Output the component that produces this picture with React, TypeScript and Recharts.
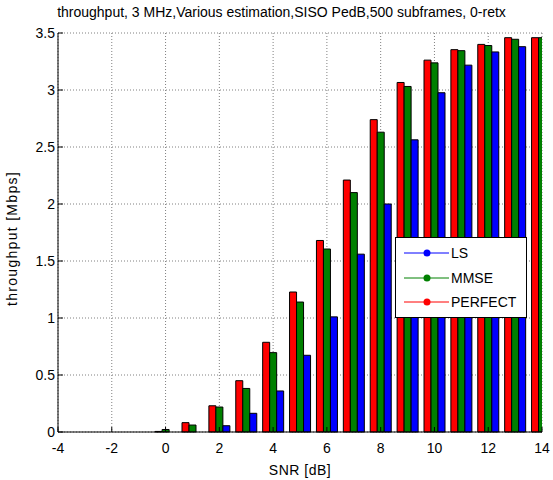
import React from "react";
import {
  BarChart,
  Bar,
  XAxis,
  YAxis,
  CartesianGrid,
  Legend,
  Label,
} from "recharts";

// SNR points in dB and the measured throughput (Mbps) for each estimator
const snr = [-4, -3, -2, -1, 0, 1, 2, 3, 4, 5, 6, 7, 8, 9, 10, 11, 12, 13, 14];
const perfect = [0, 0, 0, 0, 0.005, 0.082, 0.23, 0.45, 0.787, 1.228, 1.68, 2.21, 2.74, 3.066, 3.262, 3.354, 3.4, 3.459, 3.459];
const mmse = [0, 0, 0, 0, 0.022, 0.061, 0.219, 0.382, 0.696, 1.14, 1.605, 2.1, 2.63, 3.031, 3.238, 3.345, 3.39, 3.445, 3.459];
const ls = [0, 0, 0, 0, 0, 0, 0.055, 0.164, 0.36, 0.673, 1.01, 1.56, 2.0, 2.563, 2.976, 3.218, 3.334, 3.38, 3.4];

const xTicks = [-4, -2, 0, 2, 4, 6, 8, 10, 12, 14];
const yTicks = [0, 0.5, 1, 1.5, 2, 2.5, 3, 3.5];

const legendItems = [
  { name: "LS", color: "#0000ff" },
  { name: "MMSE", color: "#008000" },
  { name: "PERFECT", color: "#ff0000" },
];

const data = snr.map((s, i) => ({ snr: s, perfect: perfect[i], mmse: mmse[i], ls: ls[i] }));

const FONT = "'Liberation Sans', Arial, sans-serif";

const LegendBox = () => (
  <div
    style={{
      width: 130,
      height: 79,
      border: "1px solid #000",
      background: "#fff",
      fontFamily: FONT,
      fontSize: 14,
      boxSizing: "content-box",
    }}
  >
    {legendItems.map((it, i) => (
      <div key={it.name} style={{ position: "absolute", left: 0, top: 8 + i * 24.5, height: 16, display: "flex", alignItems: "center" }}>
        <svg width={56} height={16} style={{ display: "block" }}>
          <line x1={9} x2={54} y1={8} y2={8} stroke={it.color} strokeWidth={1} />
          <circle cx={32} cy={8} r={3.5} fill={it.color} />
        </svg>
        <span style={{ color: "#000", lineHeight: "16px" }}>{it.name}</span>
      </div>
    ))}
  </div>
);

const hiddenTick = () => <g />;

export default function App() {
  return (
    <div style={{ position: "absolute", left: 0, top: 0, width: 553, height: 480, background: "#fff" }}>
      <div
        style={{
          position: "absolute",
          left: 0,
          width: 563,
          top: 4,
          textAlign: "center",
          fontFamily: FONT,
          fontSize: 14,
          color: "#000",
          whiteSpace: "nowrap",
        }}
      >
        throughput, 3 MHz,Various estimation,SISO PedB,500 subframes, 0-retx
      </div>
      <BarChart
        width={553}
        height={480}
        data={data}
        margin={{ top: 33, right: 11, bottom: 0, left: 0 }}
        barSize={7}
        barGap={0}
        style={{ position: "absolute", left: 0, top: 0 }}
      >
        <CartesianGrid stroke="#808080" strokeDasharray="1 2" />
        <XAxis
          dataKey="snr"
          type="number"
          domain={[-4, 14]}
          ticks={xTicks}
          allowDataOverflow
          height={48}
          stroke="#000"
          tickSize={-5}
          tickMargin={16}
          tick={{ fill: "#000", fontSize: 14, fontFamily: FONT }}
        >
          <Label
            value="SNR [dB]"
            position="insideBottom"
            offset={5}
            style={{ fill: "#000", fontSize: 14, fontFamily: FONT, letterSpacing: 0.5 }}
          />
        </XAxis>
        <XAxis
          xAxisId="top"
          orientation="top"
          dataKey="snr"
          type="number"
          domain={[-4, 14]}
          ticks={xTicks}
          height={0}
          stroke="#000"
          tickSize={-5}
          tick={hiddenTick}
        />
        <YAxis
          type="number"
          domain={[0, 3.5]}
          ticks={yTicks}
          width={58}
          stroke="#000"
          tickSize={-5}
          tickMargin={8}
          tick={{ fill: "#000", fontSize: 14, fontFamily: FONT }}
        >
          <Label
            value="throughput [Mbps]"
            angle={-90}
            position="insideLeft"
            offset={12}
            dy={6}
            style={{ fill: "#000", fontSize: 14, fontFamily: FONT, textAnchor: "middle", letterSpacing: 1.3 }}
          />
        </YAxis>
        <YAxis
          yAxisId="right"
          orientation="right"
          type="number"
          domain={[0, 3.5]}
          ticks={yTicks}
          width={0}
          stroke="#000"
          tickSize={-5}
          tick={hiddenTick}
        />
        <Bar dataKey="perfect" name="PERFECT" fill="#ff0000" stroke="#000" strokeWidth={1} isAnimationActive={false} />
        <Bar dataKey="mmse" name="MMSE" fill="#008000" stroke="#000" strokeWidth={1} isAnimationActive={false} />
        <Bar dataKey="ls" name="LS" fill="#0000ff" stroke="#000" strokeWidth={1} isAnimationActive={false} />
        <Legend
          layout="vertical"
          align="center"
          verticalAlign="middle"
          content={<LegendBox />}
          wrapperStyle={{ position: "absolute", left: 395, top: 237, width: 132, height: 81 }}
        />
      </BarChart>
    </div>
  );
}
